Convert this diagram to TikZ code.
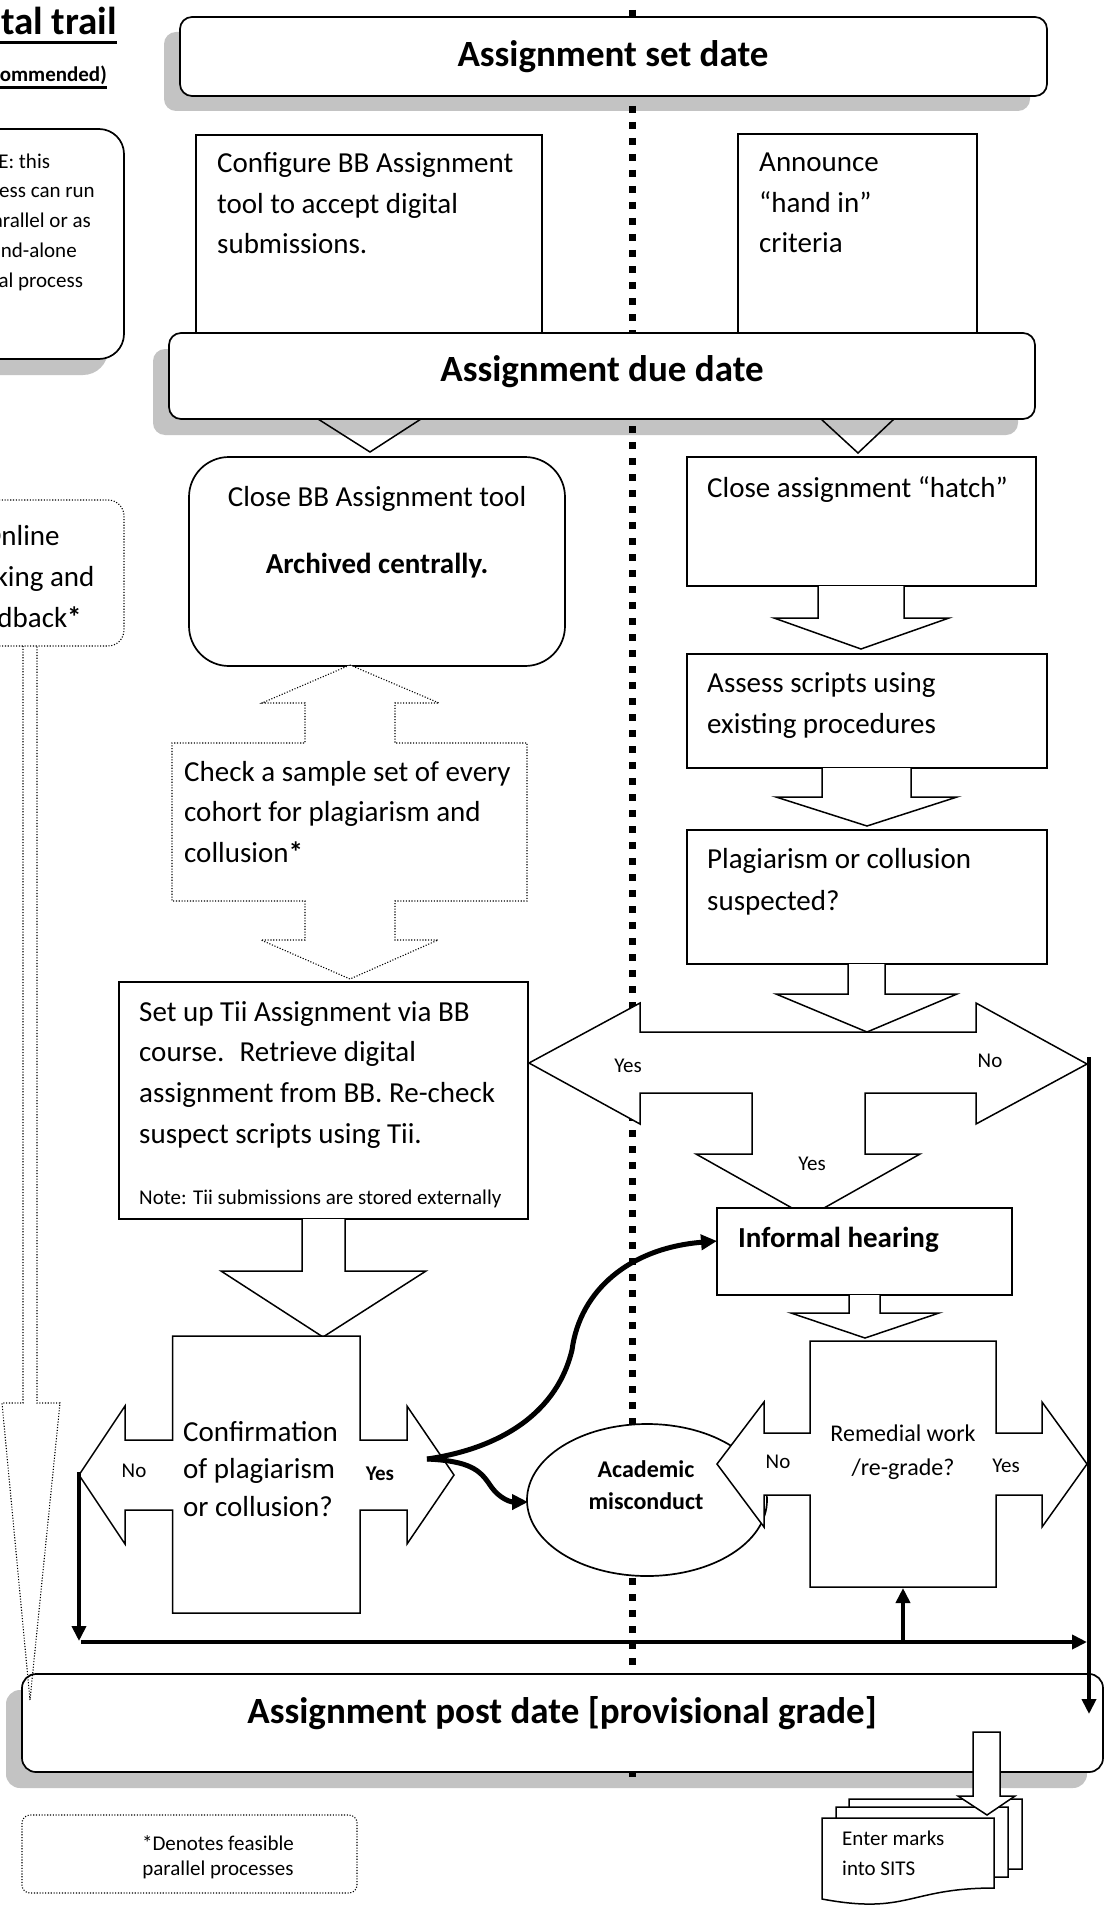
\documentclass[tikz,border=0pt]{standalone}
\usepackage{fontspec}
\setmainfont{Carlito}
\usetikzlibrary{arrows.meta}
\newcommand{\fsz}[2]{\fontsize{#1}{#2}\selectfont}
\definecolor{shadowgray}{RGB}{195,195,195}
\begin{document}
\begin{tikzpicture}[x=1pt,y=-1pt,
  box/.style={draw=black,line width=1.7pt,fill=white,line join=miter},
  blockshape/.style={draw=black,line width=1.5pt,fill=white,line join=miter},
  dots/.style={draw=black,line width=1.1pt,dash pattern=on 1.1pt off 1.7pt},
  shadowfill/.style={fill=shadowgray},
  heavy/.style={line width=4.5pt,-{Triangle[length=15pt,width=14pt]}},
  curvy/.style={line width=5pt,-{Triangle[length=16pt,width=15pt]}},
  txt/.style={inner sep=0pt,anchor=base west,align=left},
  ctxt/.style={inner sep=0pt,anchor=base,align=center},
  body/.style={font=\fsz{29}{40.5}},
  headtext/.style={font=\fsz{37}{44}\bfseries},
  small/.style={font=\fsz{21}{25}}
]
\fill[white] (0,0) rectangle (1104,1910);
\clip (0,0) rectangle (1104,1910);

% ---------- shadows ----------
\fill[shadowfill,rounded corners=12pt] (164,32) rectangle (1030,111);
\fill[shadowfill,rounded corners=25pt] (-56,145) rectangle (108,375);
\fill[shadowfill,rounded corners=12pt] (153,349) rectangle (1018,435);
\fill[shadowfill,rounded corners=14pt] (6,1690) rectangle (1087,1788);

% ---------- dividing line ----------
\coordinate (lineTop) at (632,10);
\coordinate (lineBot) at (632,1782);
\draw[line width=7pt,dash pattern=on 7pt off 9pt] (lineTop) -- (lineBot);

% ---------- title ----------
\node[name=title,font=\fsz{39}{46}\bfseries,inner sep=0pt,anchor=base east] at (117,35) {Digital trail};
\draw[line width=3pt] ([yshift=-8pt]title.base west) -- ([yshift=-8pt]title.base east);
\node[name=subtitle,font=\fsz{21}{26}\bfseries,inner sep=0pt,anchor=base east] at (107,82) {(Recommended)};
\draw[line width=2.2pt] ([yshift=-5.5pt]subtitle.base west) -- ([yshift=-5.5pt]subtitle.base east);

% ---------- set date ----------
\draw[box,rounded corners=12pt] (180,17) rectangle (1047,96);
\node[name=setdate,headtext,inner sep=0pt,anchor=base] at (613,67) {Assignment set date};

% ---------- note ----------
\draw[box,rounded corners=25pt] (-40,129) rectangle (124,359);
\node[name=note,txt,font=\fsz{21}{29.8}] at (-39,287.2) {NOTE: this\\process can run\\in parallel or as\\a stand-alone\\digital process};

% ---------- configure / announce ----------
\draw[box] (196,135) rectangle (542,345);
\node[name=config,txt,font=\fsz{29}{40.5}] at (217,254) {Configure BB Assignment\\tool to accept digital\\submissions.};
\draw[box] (738,134) rectangle (977,345);
\node[name=announce,txt,font=\fsz{29}{40.5}] at (759,253) {Announce\\“hand in”\\criteria};

% ---------- due date ----------
\draw[line width=1.5pt] (318,419) -- (370,452) -- (421,419);
\draw[line width=1.5pt] (821,419) -- (858,453) -- (894,419);
\draw[box,rounded corners=12pt] (169,333) rectangle (1035,419);
\node[name=duedate,headtext,inner sep=0pt,anchor=base] at (602,381) {Assignment due date};

% ---------- left column ----------
\draw[box,rounded corners=40pt] (189,457) rectangle (565,666);
\node[name=closebb,ctxt,body] at (377,506) {Close BB Assignment tool};
\node[name=archived,ctxt,font=\fsz{29}{40}\bfseries] at (377,573) {Archived centrally.};

\draw[dots,fill=white] (350,665) -- (439,703) -- (395,703) -- (395,743) -- (527,743) -- (527,901) -- (395,901) -- (395,940) -- (438,940) -- (350,979) -- (261,940) -- (305,940) -- (305,901) -- (172,901) -- (172,743) -- (305,743) -- (305,703) -- (262,703) -- cycle;
\node[name=check,txt,body] at (184,862) {Check a sample set of every\\cohort for plagiarism and\\collusion\textbf{*}};

\draw[box] (119,982) rectangle (528,1219);
\node[name=tii,txt,font=\fsz{29}{40.7}] at (139,1143.1) {Set up Tii Assignment via BB\\course.~ Retrieve digital\\assignment from BB. Re-check\\suspect scripts using Tii.};
\node[name=tiinote,txt,small] at (139,1204) {Note: Tii submissions are stored externally};

\draw[blockshape] (302,1219) -- (302,1271) -- (221,1271) -- (323,1337) -- (426,1271) -- (345,1271) -- (345,1219);

\draw[blockshape] (172.5,1336) -- (360,1336) -- (360,1440) -- (407,1440) -- (407,1406) -- (454,1475) -- (407,1544) -- (407,1510) -- (360,1510) -- (360,1613) -- (172.5,1613) -- (172.5,1510) -- (125,1510) -- (125,1544) -- (79,1475) -- (125,1406) -- (125,1440) -- (172.5,1440) -- cycle;
\node[name=confirm,txt,font=\fsz{29}{37.5}] at (183,1516) {Confirmation\\of plagiarism\\or collusion?};
\node[name=cfno,ctxt,small] at (134,1477) {No};
\node[name=cfyes,ctxt,font=\fsz{21}{25}\bfseries] at (380,1480) {Yes};

% ---------- online marking ----------
\draw[dots,rounded corners=16pt] (-40,500) rectangle (124,646);
\node[name=online,ctxt,font=\fsz{29}{41}] at (21,627) {Online\\marking and\\feedback\textbf{*}};

% ---------- right column ----------
\draw[box] (687,457) rectangle (1036,586);
\node[name=hatch,txt,body] at (707,497) {Close assignment “hatch”};
\draw[blockshape] (818,586) -- (818,618) -- (774,618) -- (861,649) -- (949,618) -- (904,618) -- (904,586);

\draw[box] (687,654) rectangle (1047,768);
\node[name=assess,txt,font=\fsz{29}{41}] at (707,733) {Assess scripts using\\existing procedures};
\draw[blockshape] (822,768) -- (822,797) -- (776,797) -- (867,826) -- (957,797) -- (911,797) -- (911,768);

\draw[box] (687,830) rectangle (1047,964);
\node[name=suspect,txt,font=\fsz{29}{42}] at (707,910) {Plagiarism or collusion\\suspected?};
\draw[blockshape] (848,964) -- (848,994) -- (776,994) -- (867,1032) -- (957,994) -- (885,994) -- (885,964);

\draw[blockshape] (640,1003) -- (640,1032) -- (976,1032) -- (976,1003) -- (1087,1064) -- (976,1124) -- (976,1093) -- (865,1093) -- (865,1154) -- (920,1154) -- (808,1217) -- (696,1154) -- (752,1154) -- (752,1093) -- (640,1093) -- (640,1124) -- (529,1063) -- cycle;
\node[name=ynyes,ctxt,small] at (628,1072) {Yes};
\node[name=ynno,ctxt,small] at (990,1067) {No};
\node[name=ynyes2,ctxt,small] at (812,1170) {Yes};

\draw[box] (717,1208) rectangle (1012,1295);
\node[name=informal,txt,font=\fsz{29}{34}\bfseries] at (738,1247) {Informal hearing};
\draw[blockshape] (849,1295) -- (849,1313) -- (791,1313) -- (865,1338) -- (939,1313) -- (880,1313) -- (880,1295);

\draw[box] (647,1500) ellipse [x radius=120pt, y radius=76pt];
\node[name=academic,ctxt,font=\fsz{24}{32}\bfseries] at (646,1509) {Academic\\misconduct};

\draw[blockshape] (810,1341) -- (996,1341) -- (996,1433) -- (1042,1433) -- (1042,1402) -- (1087,1464) -- (1042,1527) -- (1042,1495) -- (996,1495) -- (996,1587) -- (810,1587) -- (810,1495) -- (764,1495) -- (764,1527) -- (717,1464) -- (764,1402) -- (764,1433) -- (810,1433) -- cycle;
\node[name=remedial,ctxt,font=\fsz{24}{34}] at (903,1475) {Remedial work\\/re-grade?};
\node[name=remno,ctxt,small] at (778,1468) {No};
\node[name=remyes,ctxt,small] at (1006,1472) {Yes};

% ---------- post date ----------
\draw[box,rounded corners=14pt] (22,1674) rectangle (1103,1772);
\node[name=postdate,headtext,inner sep=0pt,anchor=base] at (562,1723) {Assignment post date [provisional grade]};

% ---------- online dotted arrow ----------
\draw[dots] (23,646) -- (23,1403) -- (2,1403) -- (30,1700) -- (60,1403) -- (37,1403) -- (37,646);

% ---------- heavy connectors ----------
\coordinate (cfNoTip) at (79,1472);
\coordinate (bottomR) at (1087,1642);
\coordinate (remUp) at (903,1642);
\coordinate (remBot) at (903,1588);
\coordinate (ynTip) at (1089,1057);
\coordinate (postIn) at (1089,1714);
\coordinate (cfYes) at (427,1459);
\coordinate (infL) at (717,1241);
\coordinate (acadL) at (528,1502);
\draw[heavy] (cfNoTip) -- (79,1641);
\draw[heavy] (81,1642) -- (bottomR);
\draw[line width=4pt,-{Triangle[length=15pt,width=14pt]}] (remUp) -- (remBot);
\draw[heavy] (ynTip) -- (postIn);
\draw[curvy] (cfYes) .. controls (490,1450) and (555,1420) .. (572,1350) .. controls (580,1290) and (630,1248) .. (infL);
\draw[curvy] (cfYes) .. controls (470,1461) and (480,1470) .. (490,1485) .. controls (500,1500) and (512,1502) .. (acadL);

% ---------- legend ----------
\draw[dots,rounded corners=8pt] (22,1815) rectangle (357,1893);
\node[name=legend,ctxt,small] at (218,1875) {*Denotes feasible\\parallel processes};

% ---------- SITS multi-document ----------
\draw[blockshape] (849,1799) -- (1022,1799) -- (1022,1869) .. controls (935,1869) and (935,1895) .. (849,1880) -- cycle;
\draw[blockshape] (836,1807) -- (1008,1807) -- (1008,1877) .. controls (922,1877) and (922,1903) .. (836,1888) -- cycle;
\draw[blockshape] (822,1818) -- (994,1818) -- (994,1888) .. controls (908,1888) and (908,1915) .. (822,1899) -- cycle;
\node[name=sits,txt,font=\fsz{21}{30}] at (842,1875) {Enter marks\\into SITS};
\draw[blockshape] (973,1732) -- (1000,1732) -- (1000,1796) -- (1015,1796) -- (987,1815) -- (958,1796) -- (973,1796) -- cycle;
\end{tikzpicture}
\end{document}
